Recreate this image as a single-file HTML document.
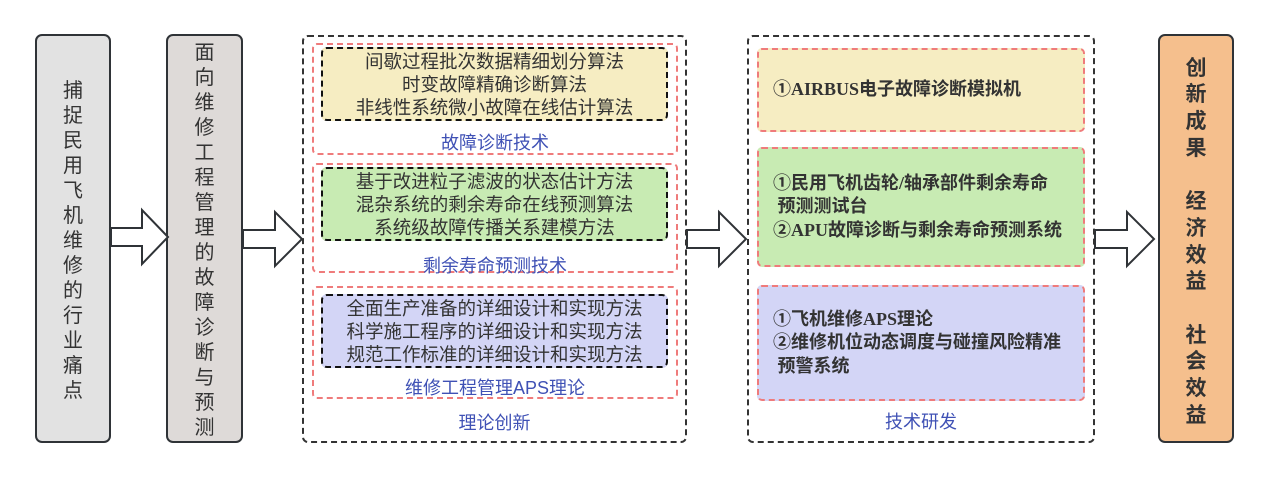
<!DOCTYPE html>
<html><head><meta charset="utf-8"><style>
body{margin:0;width:1269px;height:478px;background:#fff;position:relative;overflow:hidden;font-family:"Liberation Sans","Noto Sans CJK SC",sans-serif;color:#333}
.a{position:absolute;box-sizing:border-box}
.vbox{border:2px solid #2f3337;border-radius:7px;display:flex;flex-direction:column;align-items:center;justify-content:center;text-align:center}
.cont{border:2px dashed #333;border-radius:6px}
.red{border:2px dashed #ef7b7b;border-radius:5px}
.inner{border:2px dashed #111;border-radius:6px;text-align:center;font-size:18.5px;line-height:23px;display:flex;flex-direction:column;justify-content:center;white-space:nowrap}
.lbl{font-size:18px;color:#3f51b5;text-align:center}
.tech{font-family:"Liberation Serif","Noto Sans CJK SC",serif;font-weight:bold;font-size:18px;line-height:23.5px;color:#333;padding-left:14px;display:flex;flex-direction:column;justify-content:center;white-space:nowrap}
</style></head><body>
<div class="a vbox" style="left:35px;top:34px;width:76px;height:409px;background:#e2e2e2;font-size:20px;line-height:25px;padding-top:6px">捕<br>捉<br>民<br>用<br>飞<br>机<br>维<br>修<br>的<br>行<br>业<br>痛<br>点</div>
<div class="a vbox" style="left:166px;top:34px;width:77px;height:409px;background:#dedad8;font-size:20px;line-height:25px;padding-top:4px">面<br>向<br>维<br>修<br>工<br>程<br>管<br>理<br>的<br>故<br>障<br>诊<br>断<br>与<br>预<br>测</div>
<div class="a vbox" style="left:1158px;top:34px;width:76px;height:409px;background:#f5bf8d;font-size:21px;line-height:26.7px;font-weight:bold;padding-top:8px">创<br>新<br>成<br>果<br><br>经<br>济<br>效<br>益<br><br>社<br>会<br>效<br>益</div>
<svg class="a" style="left:0;top:0" width="1269" height="478">
<g fill="#fff" stroke="#2f3337" stroke-width="2" stroke-linejoin="miter">
<polygon points="111,228 142,228 142,210 168,237 142,264 142,246 111,246"/>
<polygon points="243,230 275,230 275,212 302,239 275,266 275,248 243,248"/>
<polygon points="687,230 719,230 719,212 746,239 719,266 719,248 687,248"/>
<polygon points="1095,230 1127,230 1127,212 1154,239 1127,266 1127,248 1095,248"/>
</g></svg>
<div class="a cont" style="left:302px;top:35px;width:385px;height:408px"></div>
<div class="a red" style="left:312px;top:43px;width:366px;height:112px"></div>
<div class="a inner" style="left:321px;top:47px;width:347px;height:74px;background:#f6edc2">间歇过程批次数据精细划分算法<br>时变故障精确诊断算法<br>非线性系统微小故障在线估计算法</div>
<div class="a lbl" style="left:312px;top:129px;width:366px">故障诊断技术</div>
<div class="a red" style="left:312px;top:163px;width:366px;height:110px"></div>
<div class="a inner" style="left:321px;top:167px;width:347px;height:74px;background:#c8ebb3">基于改进粒子滤波的状态估计方法<br>混杂系统的剩余寿命在线预测算法<br>系统级故障传播关系建模方法</div>
<div class="a lbl" style="left:312px;top:252px;width:366px">剩余寿命预测技术</div>
<div class="a red" style="left:312px;top:286px;width:366px;height:113px"></div>
<div class="a inner" style="left:321px;top:294px;width:347px;height:74px;background:#d3d5f6">全面生产准备的详细设计和实现方法<br>科学施工程序的详细设计和实现方法<br>规范工作标准的详细设计和实现方法</div>
<div class="a lbl" style="left:312px;top:374px;width:366px">维修工程管理APS理论</div>
<div class="a lbl" style="left:302px;top:409px;width:385px">理论创新</div>
<div class="a cont" style="left:747px;top:35px;width:348px;height:408px"></div>
<div class="a red tech" style="left:757px;top:48px;width:328px;height:84px;background:#f6edc2">①AIRBUS电子故障诊断模拟机</div>
<div class="a red tech" style="left:757px;top:147px;width:328px;height:120px;background:#c8ebb3">①民用飞机齿轮/轴承部件剩余寿命<br>&nbsp;预测测试台<br>②APU故障诊断与剩余寿命预测系统</div>
<div class="a red tech" style="left:757px;top:285px;width:328px;height:116px;background:#d3d5f6">①飞机维修APS理论<br>②维修机位动态调度与碰撞风险精准<br>&nbsp;预警系统</div>
<div class="a lbl" style="left:747px;top:408px;width:348px">技术研发</div>
</body></html>
